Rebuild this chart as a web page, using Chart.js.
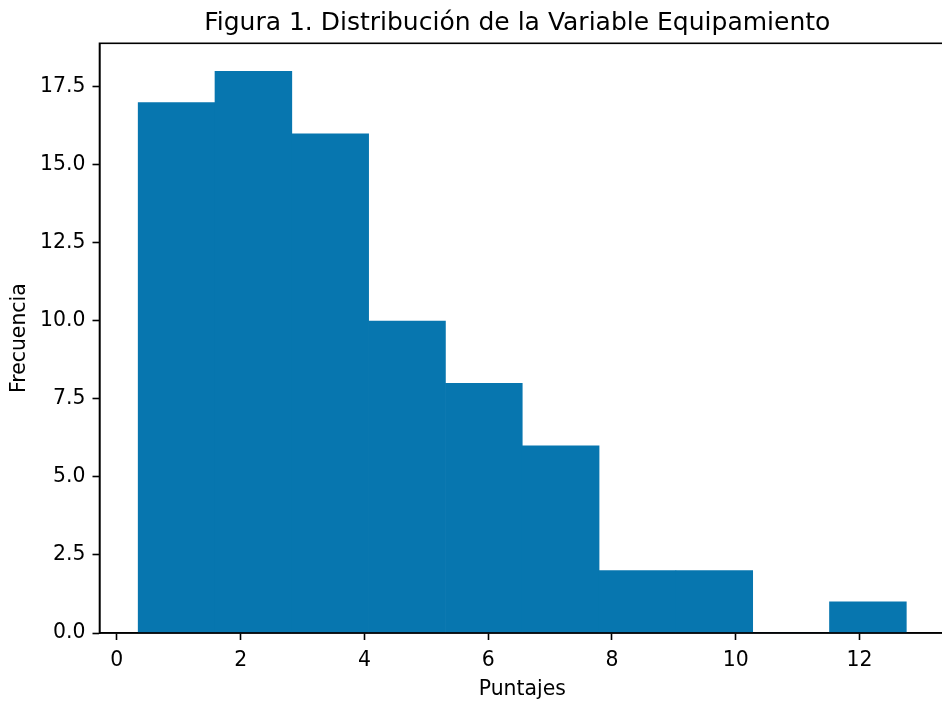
<!DOCTYPE html>
<html>
<head>
<meta charset="utf-8">
<script src="https://cdn.jsdelivr.net/npm/chart.js@4/dist/chart.umd.min.js"></script>
<style>
  html, body { margin: 0; padding: 0; background: #ffffff; overflow: hidden; }
  /* the original figure is cropped on the right, so the canvas is a little wider than the window */
  #wrap { width: 946px; height: 702px; }
</style>
</head>
<body>
<div id="wrap"><canvas id="histChart"></canvas></div>
<script>
// Histogram data
const binEdges = [0.345, 1.586, 2.827, 4.068, 5.309, 6.55, 7.791, 9.032, 10.273, 11.514, 12.755];
const counts = [17, 18, 16, 10, 8, 6, 2, 2, 0, 1];
const xTicks = [0, 2, 4, 6, 8, 10, 12];
const yTicks = [0, 2.5, 5, 7.5, 10, 12.5, 15, 17.5];
const titleText = 'Figura 1. Distribución de la Variable Equipamiento';

Chart.defaults.font.family = 'DejaVu Sans';
Chart.defaults.color = '#000000';

const points = counts.map((c, i) => ({ x: (binEdges[i] + binEdges[i + 1]) / 2, y: c }));

// matplotlib-style box around the plot area
const frame = {
    id: 'frame',
    afterDatasetsDraw(chart) {
        const { ctx, chartArea: a } = chart;
        ctx.save();
        ctx.strokeStyle = '#000000';
        ctx.lineWidth = 1.6;
        ctx.strokeRect(a.left, a.top, a.right - a.left, a.bottom - a.top);
        ctx.restore();
    }
};

// title centred over the axes, like matplotlib
const axesTitle = {
    id: 'axesTitle',
    afterDraw(chart) {
        const { ctx, chartArea: a } = chart;
        ctx.save();
        ctx.font = '25px "DejaVu Sans"';
        ctx.fillStyle = '#000000';
        ctx.textAlign = 'center';
        ctx.textBaseline = 'alphabetic';
        ctx.fillText(titleText, (a.left + a.right) / 2 - 5, a.top - 13);
        ctx.restore();
    }
};

const bg = {
    id: 'bg',
    beforeDraw(chart) {
        const ctx = chart.ctx;
        ctx.save();
        ctx.fillStyle = '#ffffff';
        ctx.fillRect(0, 0, chart.width, chart.height);
        ctx.restore();
    }
};

new Chart(document.getElementById('histChart'), {
    type: 'bar',
    data: {
        datasets: [{
            label: 'Frecuencia',
            data: points,
            backgroundColor: '#0776af',
            borderWidth: 0,
            barPercentage: 1,
            categoryPercentage: 1
        }]
    },
    options: {
        responsive: true,
        maintainAspectRatio: false,
        animation: false,
        layout: { padding: { left: 0, right: 1, top: 43.3, bottom: 0 } },
        scales: {
            x: {
                type: 'linear',
                offset: false,
                min: -0.28,
                max: 13.38,
                afterBuildTicks: s => { s.ticks = xTicks.map(v => ({ value: v })); },
                afterFit: s => { s.height = 69; },
                ticks: { font: { size: 20.4 }, padding: 8, maxRotation: 0, autoSkip: false },
                grid: { offset: false, drawOnChartArea: false, drawTicks: true, tickLength: 7, tickWidth: 1.6, tickColor: '#000000' },
                border: { display: true, color: '#000000', width: 1.6 },
                title: { display: true, text: 'Puntajes', font: { size: 20.4 }, padding: { top: 0, bottom: 0 } }
            },
            y: {
                type: 'linear',
                min: 0,
                max: 18.9,
                afterBuildTicks: s => { s.ticks = yTicks.map(v => ({ value: v })); },
                afterFit: s => { s.width = 99.5; },
                ticks: { font: { size: 20.4 }, padding: 7, autoSkip: false, callback: v => v.toFixed(1) },
                grid: { drawOnChartArea: false, drawTicks: true, tickLength: 7, tickWidth: 1.6, tickColor: '#000000' },
                border: { display: true, color: '#000000', width: 1.6 },
                title: { display: true, text: 'Frecuencia', font: { size: 20.4 }, padding: { top: 7, bottom: 0 } }
            }
        },
        plugins: {
            legend: { display: false },
            tooltip: { enabled: false },
            title: { display: false }
        }
    },
    plugins: [bg, frame, axesTitle]
});
</script>
</body>
</html>
